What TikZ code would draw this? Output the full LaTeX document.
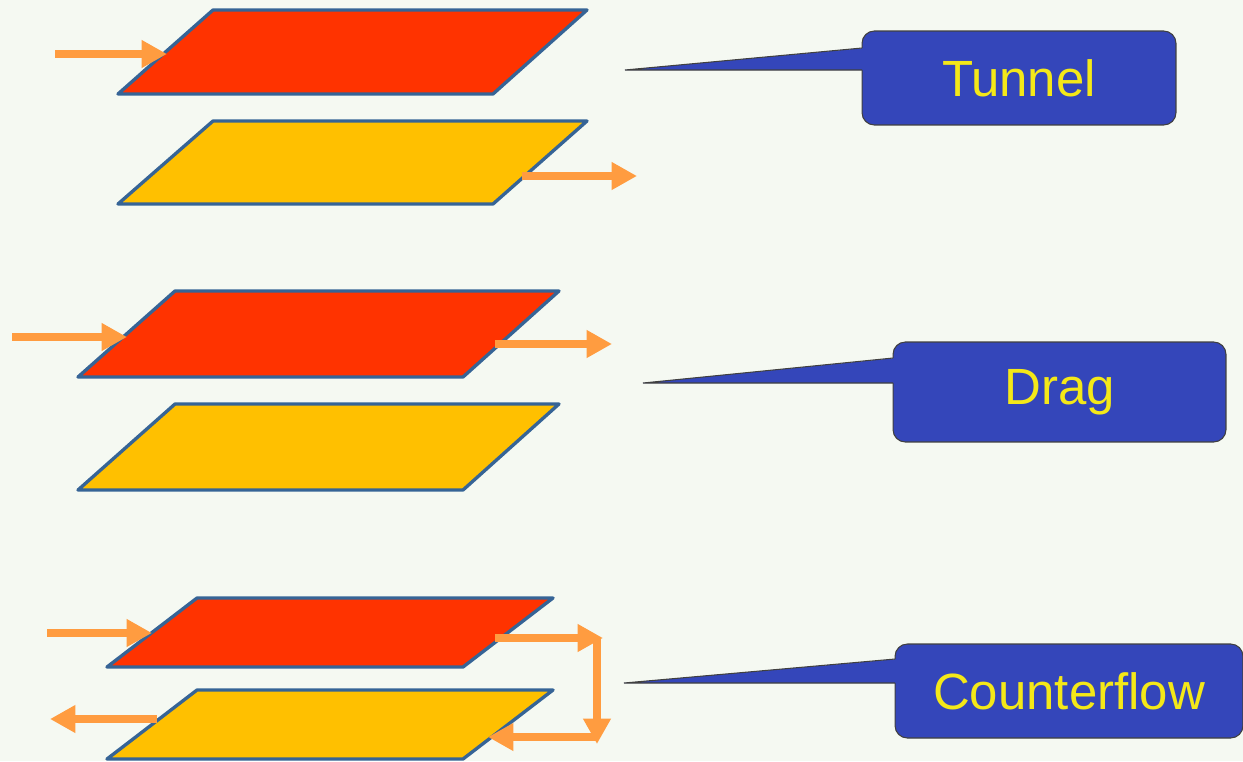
\documentclass[tikz,border=0pt]{standalone}
\usepackage{fontspec}
\setmainfont{Liberation Sans}
\usepackage{xcolor}
\usepackage{tikz}
\usetikzlibrary{arrows.meta, positioning, calc}

\definecolor{bgPaper}{RGB}{245,249,242}
\definecolor{plateRed}{RGB}{255,51,0}
\definecolor{plateYellow}{RGB}{255,192,0}
\definecolor{plateEdge}{RGB}{54,100,150}
\definecolor{flowOrange}{RGB}{255,156,64}
\definecolor{calloutBlue}{RGB}{52,70,186}
\definecolor{labelYellow}{RGB}{244,232,24}

\begin{document}
\begin{tikzpicture}[
        x=0.02cm, y=-0.02cm,
        plate/.style={draw=plateEdge, line width=1.9pt, line join=round},
        flow/.style={draw=flowOrange, line width=4.8pt, -{Triangle[length=14.5pt, width=15pt]}},
        callout/.style={draw=black!75, line width=0.6pt, fill=calloutBlue, rounded corners=7pt, outer sep=0pt, text=labelYellow, font=\fontsize{29}{34}\selectfont},
        pointer/.style={draw=black!75, line width=0.6pt}
    ]
    \fill[bgPaper] (0,0) rectangle (1243,761);
    \useasboundingbox (0,0) rectangle (1243,761);

    % Tunnel
    \draw[plate, fill=plateRed] (213,10) -- (587,10) -- (493,94) -- (118,94) -- cycle;
    \draw[plate, fill=plateYellow] (213,121) -- (587,121) -- (493,204) -- (118,204) -- cycle;
    \coordinate (t-in) at (55,54);
    \coordinate (t-red) at (167,54);
    \coordinate (t-yellow) at (522,176);
    \coordinate (t-out) at (637,176);
    \draw[flow] (t-in) -- (t-red);
    \draw[flow] (t-yellow) -- (t-out);

    % Drag
    \draw[plate, fill=plateRed] (175,291) -- (559,291) -- (463,377) -- (78,377) -- cycle;
    \draw[plate, fill=plateYellow] (175,404) -- (559,404) -- (463,490) -- (78,490) -- cycle;
    \coordinate (d-in) at (12,337);
    \coordinate (d-red) at (127,337);
    \coordinate (d-exit) at (495,344);
    \coordinate (d-out) at (612,344);
    \draw[flow] (d-in) -- (d-red);
    \draw[flow] (d-exit) -- (d-out);

    % Counterflow
    \draw[plate, fill=plateRed] (197,598) -- (553,598) -- (463,667) -- (107,667) -- cycle;
    \draw[plate, fill=plateYellow] (197,690) -- (553,690) -- (463,759) -- (107,759) -- cycle;
    \coordinate (c-in) at (47,633);
    \coordinate (c-red) at (152,633);
    \coordinate (c-exit) at (495,638);
    \coordinate (c-turn) at (603,638);
    \coordinate (c-top) at (597,638);
    \coordinate (c-down) at (597,744);
    \coordinate (c-back) at (597,737);
    \coordinate (c-yellow) at (488,737);
    \coordinate (c-leave) at (157,719);
    \coordinate (c-out) at (50,719);
    \draw[flow] (c-in) -- (c-red);
    \draw[flow] (c-exit) -- (c-turn);
    \draw[flow] (c-top) -- (c-down);
    \draw[flow] (c-back) -- (c-yellow);
    \draw[flow] (c-leave) -- (c-out);

    % Legendas
    \node[callout, minimum width=6.28cm, minimum height=1.88cm] (tunnel) at (1019,78) {Tunnel};
    \node[callout, minimum width=6.66cm, minimum height=2.0cm] (drag) at (1059.5,392) {Drag};
    \node[callout, minimum width=6.96cm, minimum height=1.88cm] (counterflow) at (1069,691) {Counterflow};

    % Ponteiros das legendas
    \coordinate (tunnel-tip) at (625,70);
    \coordinate (drag-tip) at (643,383);
    \coordinate (counterflow-tip) at (624,683);
    \fill[calloutBlue] (tunnel-tip) -- ($(tunnel.west)+(2,-30)$) -- ($(tunnel.west |- tunnel-tip)+(2,0)$) -- cycle;
    \draw[pointer] ($(tunnel.west)+(0,-30)$) -- (tunnel-tip) -- (tunnel.west |- tunnel-tip);
    \fill[calloutBlue] (drag-tip) -- ($(drag.west)+(2,-34)$) -- ($(drag.west |- drag-tip)+(2,0)$) -- cycle;
    \draw[pointer] ($(drag.west)+(0,-34)$) -- (drag-tip) -- (drag.west |- drag-tip);
    \fill[calloutBlue] (counterflow-tip) -- ($(counterflow.west)+(2,-32)$) -- ($(counterflow.west |- counterflow-tip)+(2,0)$) -- cycle;
    \draw[pointer] ($(counterflow.west)+(0,-32)$) -- (counterflow-tip) -- (counterflow.west |- counterflow-tip);
\end{tikzpicture}
\end{document}
